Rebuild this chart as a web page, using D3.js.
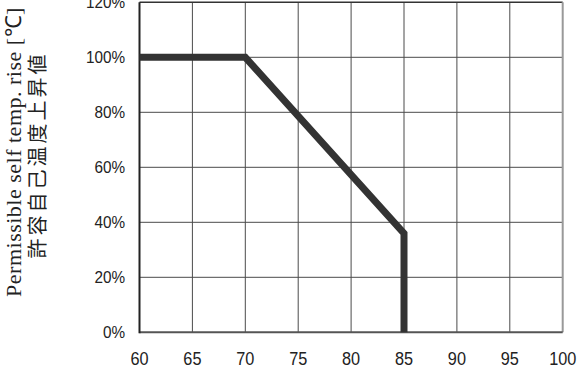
<!DOCTYPE html>
<html>
<head>
<meta charset="utf-8">
<script src="https://cdn.jsdelivr.net/npm/d3@7"></script>
<style>
  html, body { margin: 0; padding: 0; background: #fff; }
  svg { display: block; }
</style>
</head>
<body>
<svg id="chart" width="583" height="372"></svg>
<script>
// derating curve: ambient temp [C] vs permissible self temp. rise [%]
const temps = [60, 70, 85, 85];
const rise = [100, 100, 36, 0];
const xTicks = [60, 65, 70, 75, 80, 85, 90, 95, 100];
const yTicks = [0, 20, 40, 60, 80, 100, 120];
const yTitle = "Permissible self temp. rise [\u2103]";
const yTitleJa = "許容自己温度上昇値";

const svg = d3.select("#chart");
const x = d3.scaleLinear().domain([60, 100]).range([139.5, 562.7]);
const y = d3.scaleLinear().domain([0, 120]).range([332.3, 2.3]);

// grid
const grid = svg.append("g").attr("stroke", "#4a4a4a").attr("stroke-width", 1);
grid.selectAll(".vx")
    .data(xTicks.slice(1, -1))
    .join("line")
    .attr("x1", d => x(d)).attr("x2", d => x(d))
    .attr("y1", y(120)).attr("y2", y(0));
grid.selectAll(".hy")
    .data(yTicks.slice(1, -1))
    .join("line")
    .attr("x1", x(60)).attr("x2", x(100))
    .attr("y1", d => y(d)).attr("y2", d => y(d));

// frame
svg.append("line").attr("x1", x(60)).attr("x2", x(100)).attr("y1", y(120)).attr("y2", y(120))
    .attr("stroke", "#333").attr("stroke-width", 1.5);
svg.append("line").attr("x1", x(100)).attr("x2", x(100)).attr("y1", y(120)).attr("y2", y(0))
    .attr("stroke", "#999").attr("stroke-width", 2);
svg.append("line").attr("x1", x(60)).attr("x2", x(100)).attr("y1", y(0)).attr("y2", y(0))
    .attr("stroke", "#555").attr("stroke-width", 2);
svg.append("line").attr("x1", x(60)).attr("x2", x(60)).attr("y1", y(120)).attr("y2", y(0) + 1)
    .attr("stroke", "#222").attr("stroke-width", 2);

// curve
const line = d3.line().x(d => x(d[0])).y(d => y(d[1]));
svg.append("path")
    .datum(d3.zip(temps, rise))
    .attr("d", line)
    .attr("fill", "none")
    .attr("stroke", "#333")
    .attr("stroke-width", 7)
    .attr("stroke-linejoin", "miter");

// tick labels
svg.append("g")
    .selectAll("text")
    .data(yTicks)
    .join("text")
    .attr("transform", d => `translate(125,${y(d) + 6}) scale(0.9,1)`)
    .attr("text-anchor", "end")
    .attr("font-family", "Liberation Sans, Arial, sans-serif")
    .attr("font-size", 17)
    .attr("fill", "#222")
    .text(d => d + "%");

svg.append("g")
    .selectAll("text")
    .data(xTicks)
    .join("text")
    .attr("transform", d => `translate(${x(d)},364.5) scale(0.88,1)`)
    .attr("text-anchor", "middle")
    .attr("font-family", "Liberation Sans, Arial, sans-serif")
    .attr("font-size", 18.5)
    .attr("fill", "#222")
    .text(d => d);

// axis titles
svg.append("text")
    .attr("transform", "translate(21,152) rotate(-90)")
    .attr("text-anchor", "middle")
    .attr("font-family", "Liberation Serif, Times New Roman, serif")
    .attr("font-size", 22)
    .attr("letter-spacing", 0.5)
    .attr("fill", "#222")
    .text(yTitle);

svg.append("text")
    .attr("transform", "translate(45,155) rotate(-90)")
    .attr("text-anchor", "middle")
    .attr("font-family", "Noto Sans CJK JP, sans-serif")
    .attr("font-size", 20)
    .attr("letter-spacing", 3)
    .attr("fill", "#222")
    .text(yTitleJa);
</script>
</body>
</html>
